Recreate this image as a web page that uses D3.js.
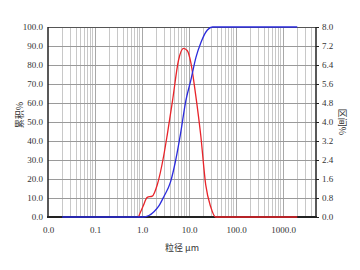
<!DOCTYPE html>
<html>
<head>
<meta charset="utf-8">
<script src="https://cdn.jsdelivr.net/npm/d3@7"></script>
<style>
  body { margin: 0; background: #fff; }
  svg text { font-family: "Liberation Serif", serif; font-size: 9px; fill: #333; }
  .cjk { font-family: "Noto Sans CJK SC", sans-serif; font-size: 9px; fill: #333; }
</style>
</head>
<body>
<div id="chart"></div>
<script>
// data
var xTicks = [0.01, 0.1, 1, 10, 100, 1000];
var leftTicks = [0, 10, 20, 30, 40, 50, 60, 70, 80, 90, 100];
var rightTicks = [0, 0.8, 1.6, 2.4, 3.2, 4.0, 4.8, 5.6, 6.4, 7.2, 8.0];

// cumulative (left axis, %)
var cumSize = [0.02, 0.5, 1.05, 1.4, 1.79, 2.3, 2.9, 4.05, 5.2, 6.6, 8.5, 10.9, 14, 17.7, 24.5, 31.5, 2000];
var cumVal  = [0, 0, 0, 0.8, 2.8, 6, 10.7, 18.6, 30, 44, 61, 72, 84, 91.6, 98.4, 100, 100];

// interval (right axis, %)
var diffSize = [0.84, 1.05, 1.29, 1.65, 2.1, 2.9, 3.42, 4.45, 5.96, 7.6, 9.2, 10.9, 13.9, 17.7, 22.6, 28.8, 36.7, 2000];
var diffVal  = [0, 0.45, 0.83, 0.88, 1.35, 2.6, 3.44, 4.9, 6.6, 7.1, 7.0, 6.5, 5.1, 3.44, 1.35, 0.43, 0, 0];

var svgWidth = 360, svgHeight = 270;
var margin = { top: 27, right: 44, bottom: 53, left: 48 };
var width = svgWidth - margin.left - margin.right;
var height = svgHeight - margin.top - margin.bottom;

var svg = d3.select("#chart").append("svg")
  .attr("width", svgWidth)
  .attr("height", svgHeight);

var g = svg.append("g")
  .attr("transform", `translate(${margin.left}, ${margin.top})`);

var x = d3.scaleLog().domain([0.01, 5000]).range([0, width]);
var yL = d3.scaleLinear().domain([0, 100]).range([height, 0]);
var yR = d3.scaleLinear().domain([0, 8]).range([height, 0]);

// vertical grid: 1..9 per decade
var gridX = [];
for (var e = -2; e <= 3; e++) {
  for (var m = 1; m <= 9; m++) {
    var v = m * Math.pow(10, e);
    if (v > 0.01 && v < 5000) gridX.push(v);
  }
}
g.selectAll(".vgrid").data(gridX).enter().append("line")
  .attr("x1", d => x(d)).attr("x2", d => x(d))
  .attr("y1", 0).attr("y2", height)
  .attr("stroke", d => (Math.abs(Math.log10(d) % 1) < 1e-9 ? "#a8a8a8" : "#c8c8c8"))
  .attr("stroke-width", 1)
  .attr("shape-rendering", "crispEdges");

g.selectAll(".hgrid").data(leftTicks.slice(1, -1)).enter().append("line")
  .attr("x1", 0).attr("x2", width)
  .attr("y1", d => yL(d)).attr("y2", d => yL(d))
  .attr("stroke", "#9a9a9a")
  .attr("shape-rendering", "crispEdges");

// frame
g.append("line").attr("x1", 0).attr("x2", width).attr("y1", 0).attr("y2", 0)
  .attr("stroke", "#555").attr("shape-rendering", "crispEdges");
g.append("line").attr("x1", 0).attr("x2", 0).attr("y1", 0).attr("y2", height)
  .attr("stroke", "#222").attr("stroke-width", 1.5);
g.append("line").attr("x1", width).attr("x2", width).attr("y1", 0).attr("y2", height)
  .attr("stroke", "#222").attr("stroke-width", 1.5);
g.append("line").attr("x1", -1).attr("x2", width + 1).attr("y1", height).attr("y2", height)
  .attr("stroke", "#222").attr("stroke-width", 2);

// axes (labels only)
var fmt1 = d3.format(".1f");
var leftAxis = d3.axisLeft(yL).tickValues(leftTicks).tickFormat(fmt1).tickSize(0).tickPadding(5);
var rightAxis = d3.axisRight(yR).tickValues(rightTicks).tickFormat(fmt1).tickSize(3).tickPadding(3);
var bottomAxis = d3.axisBottom(x).tickValues(xTicks).tickFormat(fmt1).tickSize(0).tickPadding(10);

g.append("g").call(leftAxis).call(s => s.select(".domain").remove());
g.append("g").attr("transform", `translate(${width}, 0)`).call(rightAxis)
  .call(s => s.select(".domain").remove())
  .call(s => s.selectAll(".tick line").attr("stroke", "#222"));
g.append("g").attr("transform", `translate(0, ${height})`).call(bottomAxis)
  .call(s => s.select(".domain").remove());
g.selectAll(".tick text").attr("fill", "#333")
  .style("font-family", "Liberation Serif").style("font-size", "9px");

// curves
var cumLine = d3.line()
  .x((d, i) => x(cumSize[i]))
  .y(d => yL(d))
  .curve(d3.curveMonotoneX);
var diffLine = d3.line()
  .x((d, i) => x(diffSize[i]))
  .y(d => yR(d))
  .curve(d3.curveMonotoneX);

g.append("path").datum(diffVal)
  .attr("d", diffLine)
  .attr("fill", "none").attr("stroke", "#e8242a").attr("stroke-width", 1.3);
g.append("path").datum(cumVal)
  .attr("d", cumLine)
  .attr("fill", "none").attr("stroke", "#2b2bdc").attr("stroke-width", 1.3);

// axis titles
svg.append("text").attr("class", "cjk")
  .attr("transform", "translate(19, 115) rotate(-90)")
  .attr("text-anchor", "middle").attr("dominant-baseline", "central")
  .text("累积%");
svg.append("text").attr("class", "cjk")
  .attr("transform", "translate(342, 122) rotate(90)")
  .attr("text-anchor", "middle").attr("dominant-baseline", "central")
  .text("区间%");
svg.append("text").attr("class", "cjk")
  .attr("x", 182).attr("y", 251)
  .attr("text-anchor", "middle")
  .text("粒径 μm");
</script>
</body>
</html>
